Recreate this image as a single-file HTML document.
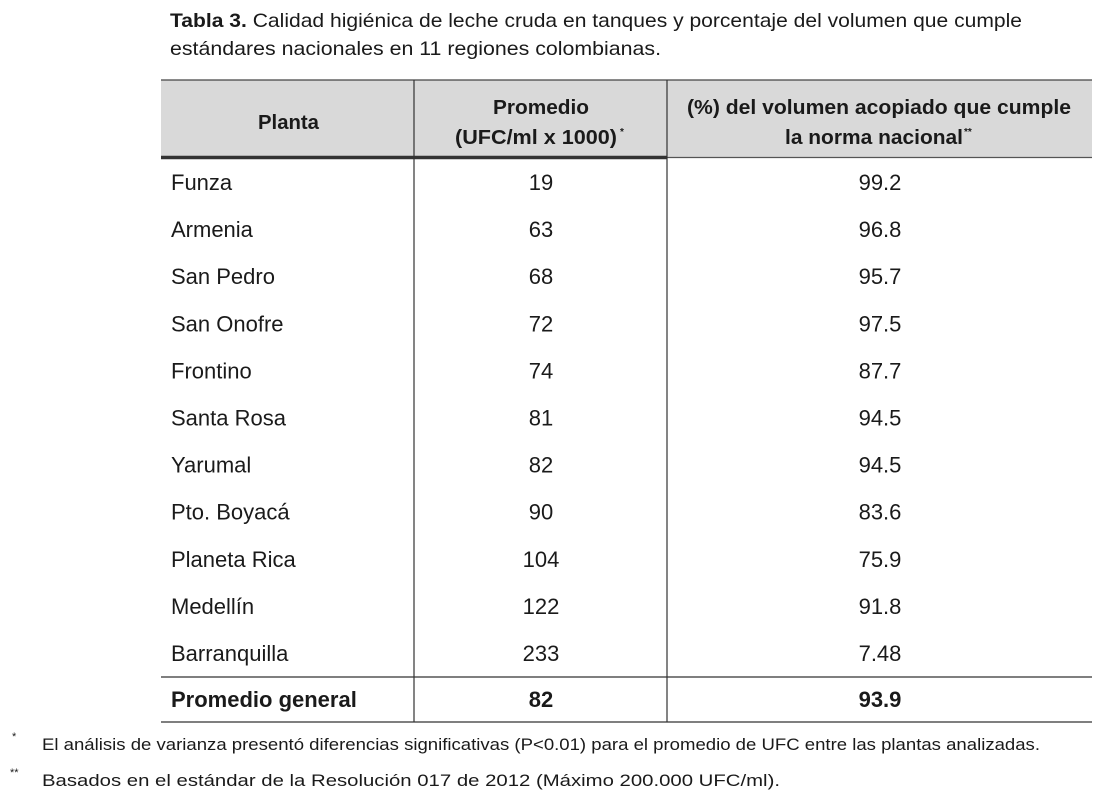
<!DOCTYPE html>
<html><head><meta charset="utf-8"><style>
html,body{margin:0;padding:0;background:#fff;}
svg{display:block;}
text{font-family:"Liberation Sans",Arial,sans-serif;fill:#1a1a1a;}
</style></head><body>
<svg width="1103" height="800" viewBox="0 0 1103 800">
<g>
<text x="170" y="27" font-size="19.5" textLength="852" lengthAdjust="spacingAndGlyphs"><tspan font-weight="bold">Tabla 3.</tspan> Calidad higiénica de leche cruda en tanques y porcentaje del volumen que cumple</text>
<text x="170" y="55" font-size="19.5" textLength="491" lengthAdjust="spacingAndGlyphs">estándares nacionales  en  11 regiones colombianas.</text>
</g>
<rect x="161" y="80" width="931" height="77" fill="#d9d9d9"/>
<line x1="161" y1="80" x2="1092" y2="80" stroke="#444" stroke-width="1.2"/>
<line x1="161" y1="157.5" x2="667" y2="157.5" stroke="#333" stroke-width="3.5"/>
<line x1="667" y1="157.5" x2="1092" y2="157.5" stroke="#555" stroke-width="1.2"/>
<line x1="414" y1="80" x2="414" y2="722" stroke="#333" stroke-width="1.2"/>
<line x1="667" y1="80" x2="667" y2="722" stroke="#333" stroke-width="1.2"/>
<line x1="161" y1="677" x2="1092" y2="677" stroke="#333" stroke-width="1.2"/>
<line x1="161" y1="722" x2="1092" y2="722" stroke="#333" stroke-width="1.2"/>
<g font-weight="bold" font-size="20">
<text x="258" y="129" textLength="61" lengthAdjust="spacingAndGlyphs">Planta</text>
<text x="493" y="114" textLength="96" lengthAdjust="spacingAndGlyphs">Promedio</text>
<text x="455" y="144" textLength="162" lengthAdjust="spacingAndGlyphs">(UFC/ml x 1000)</text>
<text x="620" y="135" font-size="10">*</text>
<text x="687" y="114" textLength="384" lengthAdjust="spacingAndGlyphs">(%) del volumen acopiado que cumple</text>
<text x="785" y="144" textLength="178" lengthAdjust="spacingAndGlyphs">la norma nacional</text>
<text x="964" y="135" font-size="10">**</text>
</g>
<g id="rows" font-size="22"></g>
<g font-size="22" font-weight="bold">
<text x="171" y="707">Promedio general</text>
<text x="541" y="707" text-anchor="middle">82</text>
<text x="880" y="707" text-anchor="middle">93.9</text>
</g>
<g font-size="17">
<text x="12" y="740" font-size="11">*</text>
<text x="42" y="750" textLength="998" lengthAdjust="spacingAndGlyphs">El análisis de varianza presentó diferencias significativas (P&lt;0.01) para el promedio de UFC entre las plantas analizadas.</text>
<text x="10" y="776" font-size="11">**</text>
<text x="42" y="786" textLength="738" lengthAdjust="spacingAndGlyphs">Basados en el estándar de la Resolución 017 de 2012 (Máximo 200.000 UFC/ml).</text>
</g>
</svg>
<script>
const plantas=["Funza","Armenia","San Pedro","San Onofre","Frontino","Santa Rosa","Yarumal","Pto. Boyacá","Planeta Rica","Medellín","Barranquilla"];
const promedio=["19","63","68","72","74","81","82","90","104","122","233"];
const porcentaje=["99.2","96.8","95.7","97.5","87.7","94.5","94.5","83.6","75.9","91.8","7.48"];
const g=document.getElementById('rows');const NS="http://www.w3.org/2000/svg";
plantas.forEach((p,i)=>{
 const y=190+i*47.1;
 const vals=[[p,171,'start'],[promedio[i],541,'middle'],[porcentaje[i],880,'middle']];
 vals.forEach((v,j)=>{
  const t=document.createElementNS(NS,'text');
  t.setAttribute('x',v[1]);t.setAttribute('y',y);t.setAttribute('text-anchor',v[2]);
  t.textContent=v[0];
  
  
  g.appendChild(t);
 });
});
</script>
</body></html>
